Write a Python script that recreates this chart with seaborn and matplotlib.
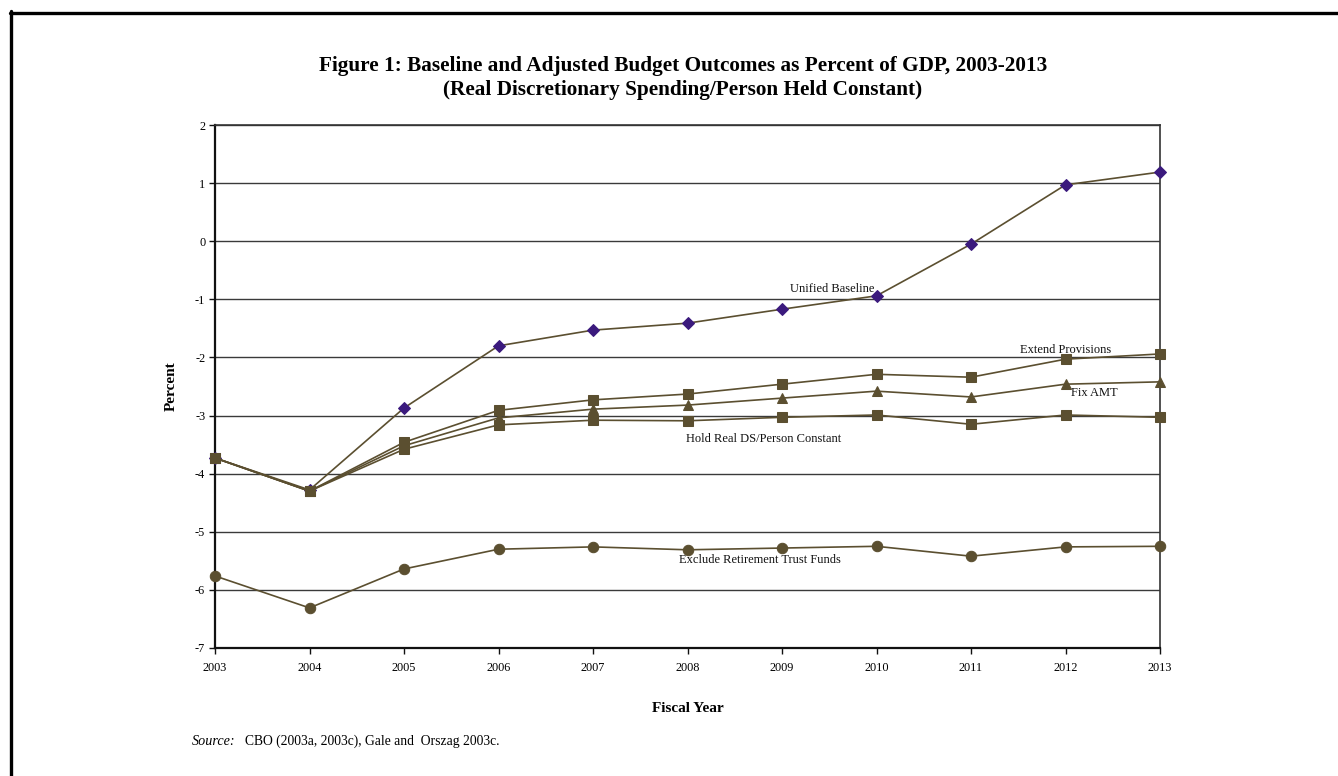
import matplotlib
matplotlib.use("Agg")
import matplotlib.pyplot as plt
from matplotlib.lines import Line2D
import seaborn as sns
import pandas as pd

years = list(range(2003, 2014))

unified_baseline = [-3.73, -4.28, -2.87, -1.80, -1.53, -1.41, -1.17, -0.94, -0.05, 0.97, 1.19]
extend_provisions = [-3.73, -4.30, -3.46, -2.91, -2.73, -2.63, -2.46, -2.29, -2.34, -2.03, -1.94]
fix_amt = [-3.73, -4.30, -3.52, -3.04, -2.89, -2.82, -2.70, -2.58, -2.68, -2.46, -2.42]
hold_real_ds = [-3.73, -4.30, -3.58, -3.16, -3.08, -3.09, -3.03, -2.99, -3.15, -2.99, -3.03]
exclude_trust = [-5.76, -6.31, -5.64, -5.30, -5.26, -5.31, -5.28, -5.25, -5.42, -5.26, -5.25]

y_ticks = [2, 1, 0, -1, -2, -3, -4, -5, -6, -7]

sns.set_style("white")
plt.rcParams["font.family"] = ["Liberation Serif", "DejaVu Serif"]
plt.rcParams["text.color"] = "black"
plt.rcParams["axes.labelcolor"] = "black"
plt.rcParams["xtick.color"] = "black"
plt.rcParams["ytick.color"] = "black"

LINE = "#5b4f30"
PURPLE = "#3b1a7d"

fig = plt.figure(figsize=(13.38, 7.76), dpi=100)
ax = fig.add_axes([215 / 1338, 1 - 648 / 776, 945 / 1338, 523 / 776])

ax.set_ylim(-7, 2)
ax.set_xlim(2003, 2013)
ax.set_yticks(y_ticks)
ax.set_xticks(years)
for v in y_ticks:
    ax.axhline(v, color="#3a3a3a", lw=1.0, zorder=0)

series = [
    (unified_baseline, "D", PURPLE, 6),
    (extend_provisions, "s", LINE, 7.5),
    (fix_amt, "^", LINE, 7.5),
    (hold_real_ds, "s", LINE, 7.5),
    (exclude_trust, "o", LINE, 7.5),
]
for vals, mk, mc, ms in series:
    df = pd.DataFrame({"year": years, "value": vals})
    sns.lineplot(data=df, x="year", y="value", ax=ax, color=LINE, lw=1.2,
                 marker=mk, markersize=ms, markerfacecolor=mc,
                 markeredgecolor=mc, zorder=3, clip_on=False)

lab_kw = dict(fontsize=9, ha="center", va="center", color="#111111")
ax.text(2009.53, -0.82, "Unified Baseline", **lab_kw)
ax.text(2012.0, -1.87, "Extend Provisions", **lab_kw)
ax.text(2012.31, -2.62, "Fix AMT", **lab_kw)
ax.text(2008.81, -3.40, "Hold Real DS/Person Constant", **lab_kw)
ax.text(2008.77, -5.49, "Exclude Retirement Trust Funds", **lab_kw)

for side in ["left", "bottom"]:
    ax.spines[side].set_color("#111111")
    ax.spines[side].set_linewidth(1.6)
for side in ["top", "right"]:
    ax.spines[side].set_color("#333333")
    ax.spines[side].set_linewidth(1.2)

ax.tick_params(axis="both", which="major", direction="out", length=4,
               width=1, color="#111111", labelsize=8.8, pad=3,
               bottom=True, left=True)
ax.tick_params(axis="x", pad=6)
ax.set_yticklabels([str(t) for t in y_ticks])
ax.set_xticklabels([str(y) for y in years])

ax.set_xlabel("Fiscal Year", fontsize=11, fontweight="bold", labelpad=20)
ax.set_ylabel("Percent", fontsize=11, fontweight="bold", labelpad=12)

fig.text(683 / 1338, 1 - 66 / 776, "Figure 1: Baseline and Adjusted Budget Outcomes as Percent of GDP, 2003-2013",
         ha="center", va="center", fontsize=15.3, fontweight="bold")
fig.text(683 / 1338, 1 - 90 / 776, "(Real Discretionary Spending/Person Held Constant)",
         ha="center", va="center", fontsize=15.3, fontweight="bold")

fig.text(192 / 1338, 1 - 745 / 776, "Source:", ha="left", va="baseline",
         fontsize=10.2, style="italic")
fig.text(245 / 1338, 1 - 745 / 776, "CBO (2003a, 2003c), Gale and  Orszag 2003c.",
         ha="left", va="baseline", fontsize=9.8)

# page frame: top and left rules
fig.add_artist(Line2D([10 / 1338, 1.0], [1 - 12.5 / 776, 1 - 12.5 / 776],
                      transform=fig.transFigure, color="black", lw=2.4))
fig.add_artist(Line2D([11 / 1338, 11 / 1338], [0.0, 1 - 11 / 776],
                      transform=fig.transFigure, color="black", lw=2.4))

fig.savefig("out.png", dpi=100, facecolor="white")
